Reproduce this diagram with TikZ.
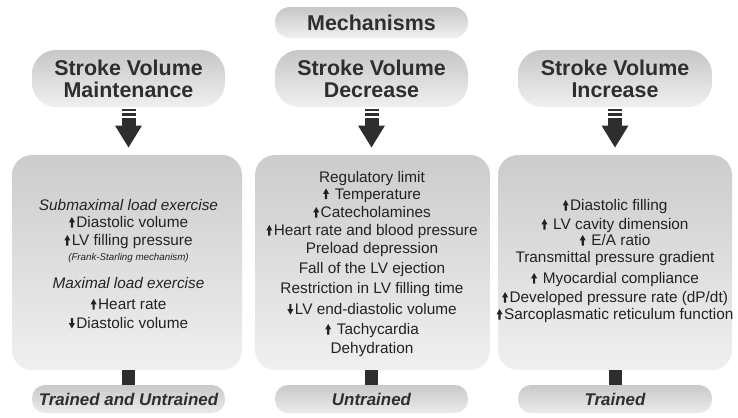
\documentclass[tikz,border=0pt]{standalone}
\usepackage{fontspec}
\setmainfont{Liberation Sans}
\definecolor{ink}{HTML}{2E2E2E}
\definecolor{txt}{HTML}{222222}
\newcommand\upa{\tikz[x=1bp,y=1bp,baseline=0pt]\fill[txt] (1.9,0) -- (4.1,0) -- (4.1,5.2) -- (6,5.2) -- (3,10.5) -- (0,5.2) -- (1.9,5.2) -- cycle;\hspace{1.5bp}}
\newcommand\dna{\tikz[x=1bp,y=1bp,baseline=0pt]\fill[txt] (1.9,10.5) -- (4.1,10.5) -- (4.1,5.3) -- (6,5.3) -- (3,0) -- (0,5.3) -- (1.9,5.3) -- cycle;\hspace{1.5bp}}
\begin{document}
\begin{tikzpicture}[x=1bp,y=-1bp,
  hdr/.style={rounded corners=24bp, top color=gray!44, bottom color=gray!12, draw=none},
  mainbox/.style={rounded corners=20bp, top color=gray!40, bottom color=gray!12, draw=none},
  lowbox/.style={rounded corners=13bp, top color=gray!42, bottom color=gray!16, draw=none},
  htext/.style={font=\fontsize{21.5}{25}\selectfont\bfseries, text=ink, align=center},
  ltext/.style={font=\fontsize{17}{20}\selectfont\bfseries\itshape, text=ink},
  btext/.style={font=\fontsize{15.4}{18}\selectfont, text=txt, anchor=base},
  itext/.style={font=\fontsize{15.4}{18}\selectfont\itshape, text=txt, anchor=base},
  stext/.style={font=\fontsize{9.8}{11}\selectfont\itshape, text=txt, anchor=base},
  joint/.style={fill=ink, draw=none}
]
\useasboundingbox (0,0) rectangle (738,417);
% Mechanisms
\path[hdr, rounded corners=15bp] (275,7) rectangle (468,38);
\node[htext] (mech) at (371.5,23) {Mechanisms};
% header boxes
\path[hdr] (32,50) rectangle (225,107);
\path[hdr] (275,50) rectangle (468,107);
\path[hdr] (518,50) rectangle (712,107);
\node[htext] (h1) at (128.5,79) {Stroke Volume\\[-3bp]Maintenance};
\node[htext] (h2) at (371.5,79) {Stroke Volume\\[-3bp]Decrease};
\node[htext] (h3) at (615,79) {Stroke Volume\\[-3bp]Increase};
% arrows
\foreach \cx/\nm in {128.5/a1,371.5/a2,615/a3}{
  \fill[ink] (\cx-7,109) rectangle (\cx+7,111.2);
  \fill[ink] (\cx-7,113.3) rectangle (\cx+7,115.5);
  \fill[ink] (\cx-7,117.6) rectangle (\cx+7,126);
  \fill[ink] (\cx-13.5,125.5) -- (\cx+13.5,125.5) -- (\cx,147.5) -- cycle;
  \coordinate (\nm) at (\cx,147.5);
}
% main boxes
\path[mainbox] (12,155) rectangle (242,370);
\path[mainbox] (255,155) rectangle (490,370);
\path[mainbox] (498,155) rectangle (732,370);
% joints
\fill[joint] (122,370) rectangle (135,385);
\fill[joint] (365,370) rectangle (378,385);
\fill[joint] (608.5,370) rectangle (621.5,385);
% bottom boxes
\path[lowbox] (32,385) rectangle (225,413);
\path[lowbox] (275,385) rectangle (468,413);
\path[lowbox] (518,385) rectangle (712,413);
\node[ltext] (b1) at (128.5,399.5) {Trained and Untrained};
\node[ltext] (b2) at (371.5,399.5) {Untrained};
\node[ltext] (b3) at (615,399.5) {Trained};
% left texts
\node[itext] (m1) at (128.5,210.5) {Submaximal load exercise};
\node[btext] (m2) at (128.5,227.5) {\upa Diastolic volume};
\node[btext] (m3) at (128.5,245.5) {\upa LV filling pressure};
\node[stext] (m4) at (128.5,260.5) {(Frank-Starling mechanism)};
\node[itext] (m5) at (128.5,288.5) {Maximal load exercise};
\node[btext] (m6) at (128.5,309.5) {\upa Heart rate};
\node[btext] (m7) at (128.5,328.5) {\dna Diastolic volume};
% middle texts
\node[btext] (d1) at (372,182.5) {Regulatory limit};
\node[btext] (d2) at (372,199) {\upa\ Temperature};
\node[btext] (d3) at (372,217.5) {\upa Catecholamines};
\node[btext] (d4) at (372,235.5) {\upa Heart rate and blood pressure};
\node[btext] (d5) at (372,253.5) {Preload depression};
\node[btext] (d6) at (372,273.5) {Fall of the LV ejection};
\node[btext] (d7) at (372,293.5) {Restriction in LV filling time};
\node[btext] (d8) at (372,314.5) {\dna LV end-diastolic volume};
\node[btext] (d9) at (372,334.5) {\upa\ Tachycardia};
\node[btext] (d10) at (372,353.5) {Dehydration};
% right texts
\node[btext] (r1) at (615,210.5) {\upa Diastolic filling};
\node[btext] (r2) at (615,229.5) {\upa\ LV cavity dimension};
\node[btext] (r3) at (615,245.5) {\upa\ E/A ratio};
\node[btext] (r4) at (615,262.5) {Transmittal pressure gradient};
\node[btext] (r5) at (615,283.5) {\upa\ Myocardial compliance};
\node[btext] (r6) at (615,302.5) {\upa Developed pressure rate (dP/dt)};
\node[btext] (r7) at (615,319.5) {\upa Sarcoplasmatic reticulum function};
\end{tikzpicture}
\end{document}
